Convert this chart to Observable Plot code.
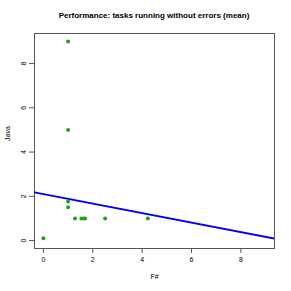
<!DOCTYPE html>
<html>
<head>
<meta charset="utf-8">
<script src="https://cdn.jsdelivr.net/npm/d3@7"></script>
<script src="https://cdn.jsdelivr.net/npm/@observablehq/plot@0.6"></script>
<style>
  body { margin: 0; background: #fff; }
  #title { height: 26px; width: 291px; box-sizing: border-box; padding: 11px 17px 0 34px; text-align: center;
    font: bold 8px "Liberation Sans", Arial, sans-serif; color: #000; line-height: 10px; white-space: nowrap; }
</style>
</head>
<body>
<div id="title">Performance: tasks running without errors (mean)</div>
<div id="chart"></div>
<script>
const fsharp = [0, 1, 1, 1.28, 1.54, 1.62, 1.69, 2.5, 4.23, 1, 1];
const java   = [0.1, 1.77, 1.5, 1, 1, 1, 1, 1, 1, 9, 5];
const tickValues = [0, 2, 4, 6, 8];
const fitIntercept = 2.1;
const fitSlope = -0.215;
const domainX = [-0.36, 9.36];
const domainY = [-0.36, 9.36];

const points = fsharp.map((x, i) => ({x, y: java[i]}));
const fitLine = domainX.map(x => ({x, y: fitIntercept + fitSlope * x}));

const chart = Plot.plot({
  width: 291,
  height: 265,
  marginTop: 7,
  marginBottom: 43,
  marginLeft: 34,
  marginRight: 17,
  style: {fontFamily: "'Liberation Sans', Arial, sans-serif", fontSize: "7px", color: "#000", background: "#fff"},
  x: {domain: domainX, ticks: tickValues, label: null},
  y: {domain: domainY, ticks: tickValues, label: null},
  marks: [
    Plot.frame({stroke: "#555", strokeWidth: 1}),
    Plot.axisX({ticks: tickValues, tickSize: 5, tickPadding: 4, stroke: "#555", fontSize: 7, label: null}),
    Plot.axisY({ticks: tickValues, tickSize: 5, tickPadding: 4, tickRotate: -90, stroke: "#555", fontSize: 7, label: null}),
    Plot.text(["F#"], {frameAnchor: "bottom", dy: 30, fontSize: 7, fill: "#000"}),
    Plot.text(["Java"], {frameAnchor: "left", dx: -27, rotate: -90, fontSize: 7, fill: "#000"}),
    Plot.line(fitLine, {x: "x", y: "y", stroke: "#0000ff", strokeWidth: 2, clip: true}),
    Plot.dot(points, {x: "x", y: "y", r: 2, fill: "#22a022", stroke: null})
  ]
});
document.getElementById("chart").appendChild(chart);
</script>
</body>
</html>
